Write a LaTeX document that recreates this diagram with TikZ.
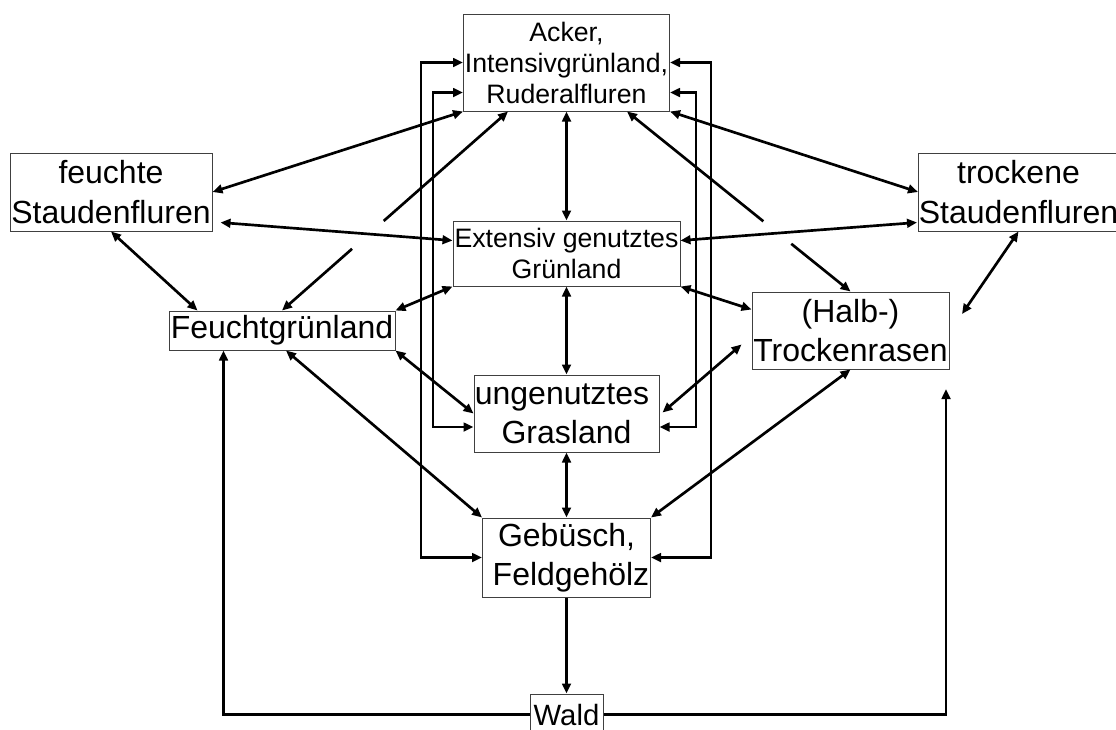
\documentclass[tikz,border=0pt]{standalone}
\usepackage{fontspec}
\setmainfont{Liberation Sans}
\usetikzlibrary{arrows.meta,calc}
\begin{document}
\begin{tikzpicture}[x=0.75pt,y=-0.75pt,
  >={Triangle[length=7.5pt,width=6.5pt]},
  box/.style={draw=black!75,line width=0.75pt,inner sep=0pt,align=center},
  bigtext/.style={font=\fontsize{24}{29.5}\selectfont},
  smalltext/.style={font=\fontsize{20}{23.25}\selectfont},
  conn/.style={line width=2pt,<->},
  oneway/.style={line width=2pt,->}]
\useasboundingbox (0,0) rectangle (1116,729);

% boxes
\node[box,smalltext,minimum width=154.5pt,minimum height=72.75pt] (acker) at (566.5,62.5) {Acker,\\Intensivgrünland,\\Ruderalfluren};
\node[box,bigtext,minimum width=151.5pt,minimum height=58.5pt] (feuchte) at (111,192) {feuchte\\Staudenfluren};
\node[box,bigtext,minimum width=150pt,minimum height=58.5pt] (trockene) at (1018.5,192) {trockene\\Staudenfluren};
\node[box,smalltext,minimum width=170.25pt,minimum height=48.75pt] (extensiv) at (566.5,253.5) {Extensiv genutztes\\Grünland};
\node[box,bigtext,minimum width=169.5pt,minimum height=29.25pt] (feuchtg) at (282,330.5) {Feuchtgrünland};
\node[box,bigtext,minimum width=147.75pt,minimum height=57.75pt] (halb) at (850.5,330.5) {(Halb-)\\Trockenrasen};
\node[box,bigtext,minimum width=138.75pt,minimum height=57.75pt] (unge) at (566.5,413.5) {ungenutztes\hspace*{0.28em}\\Grasland};
\node[box,bigtext,minimum width=126pt,minimum height=59.25pt] (gebusch) at (566.5,557.5) {Gebüsch,\\\hspace*{0.28em}Feldgehölz};
\node[box,font=\fontsize{22}{26}\selectfont,minimum width=54.75pt,minimum height=30.75pt] (wald) at (566.5,714.5) {Wald};

% helper coordinates
\coordinate (feR) at ($(feuchte.south east)+(8,-9)$);
\coordinate (exL) at ($(extensiv.west)+(0,-13)$);
\coordinate (exR) at ($(extensiv.east)+(0,-13)$);
\coordinate (trL) at ($(trockene.south west)+(-1,-9)$);
\coordinate (fgT) at ($(feuchtg.north west)+(29,0)$);
\coordinate (haL) at ($(halb.north west)+(0,18)$);
\coordinate (haB) at ($(halb.west)+(-10,14)$);
\coordinate (unR) at ($(unge.east)+(3,-1)$);
\coordinate (fgB) at ($(feuchtg.south)+(4,0)$);
\coordinate (trFree) at (962,314);
\coordinate (akA) at ($(acker.south west)+(45,0)$);
\coordinate (akB) at ($(acker.south east)+(-43,0)$);
\coordinate (gapA1) at ($(akA)!0.55!(feuchtg.north)$);
\coordinate (gapA2) at ($(akA)!0.69!(feuchtg.north)$);
\coordinate (gapB1) at ($(akB)!0.61!(halb.north)$);
\coordinate (gapB2) at ($(akB)!0.735!(halb.north)$);
\coordinate (fgW) at ($(feuchtg.south west)+(55,0)$);
\coordinate (rFree) at (946,389);
\coordinate (akLi) at ($(acker.west)+(0,30)$);
\coordinate (akRi) at ($(acker.east)+(0,30)$);
\coordinate (unLi) at ($(unge.west)+(0,13.5)$);
\coordinate (unRi) at ($(unge.east)+(0,13.5)$);

% diagonal connectors
\draw[conn] (feuchte.east) -- (acker.south west);
\draw[conn] (acker.south east) -- (trockene.west);
\draw[conn] (feR) -- (exL);
\draw[conn] (exR) -- (trL);
\draw[conn] (feuchte.south) -- (fgT);
\draw[conn] (feuchtg.north east) -- (extensiv.south west);
\draw[conn] (extensiv.south east) -- (haL);
\draw[conn] (trockene.south) -- (trFree);
\draw[conn] (feuchtg.south east) -- (unge.west);
\draw[conn] (unR) -- (haB);
\draw[conn] (fgB) -- (gebusch.north west);
\draw[conn] (halb.south) -- (gebusch.north east);

% broken connectors
\draw[oneway] (gapA1) -- (akA);
\draw[oneway] (gapA2) -- (feuchtg.north);
\draw[oneway] (gapB1) -- (akB);
\draw[oneway] (gapB2) -- (halb.north);

% vertical spine
\draw[conn] (acker.south) -- (extensiv.north);
\draw[conn] (extensiv.south) -- (unge.north);
\draw[conn] (unge.south) -- (gebusch.north);
\draw[oneway] (gebusch.south) -- (wald.north);

% loops
\draw[conn] (acker.west) -- ++(-42,0) |- (gebusch.west);
\draw[conn] (akLi) -- ++(-30,0) |- (unLi);
\draw[conn] (acker.east) -- ++(41,0) |- (gebusch.east);
\draw[conn] (akRi) -- ++(26,0) |- (unRi);

% Wald
\draw[oneway] (wald.west) -| (fgW);
\draw[oneway] (wald.east) -| (rFree);
\end{tikzpicture}
\end{document}
